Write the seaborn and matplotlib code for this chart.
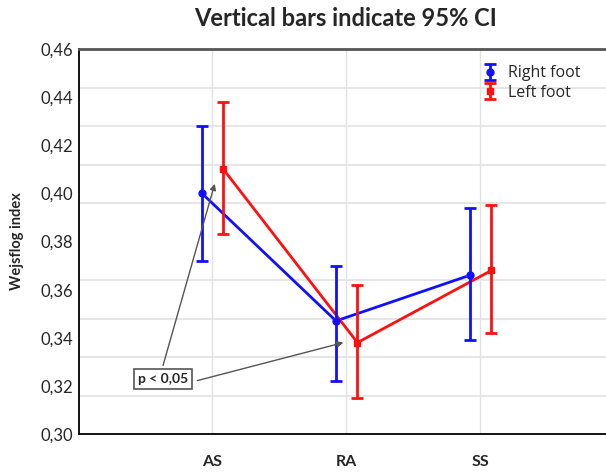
import numpy as np
import pandas as pd
import matplotlib
matplotlib.use("Agg")
import matplotlib.pyplot as plt
import seaborn as sns

# ---------------- DATA ----------------
groups = ["AS", "RA", "SS"]
right_mean = [0.400, 0.347, 0.366]
right_low = [0.372, 0.322, 0.339]
right_high = [0.428, 0.370, 0.394]
left_mean = [0.410, 0.338, 0.368]
left_low = [0.383, 0.315, 0.342]
left_high = [0.438, 0.362, 0.395]
y_labels = ["0,30", "0,32", "0,34", "0,36", "0,38", "0,40", "0,42", "0,44", "0,46"]

# ---------------- STYLE ----------------
sns.set_style("white")
plt.rcParams["font.family"] = ["Lato", "DejaVu Sans"]

fig = plt.figure(figsize=(6.06, 4.72), dpi=100)
ax = fig.add_axes([0.1304, 0.0805, 0.8696, 0.8155])

pos = np.arange(len(groups))
df = pd.DataFrame({
    "x": np.concatenate([pos - 0.075, pos + 0.085]),
    "y": right_mean + left_mean,
    "foot": ["Right foot"] * 3 + ["Left foot"] * 3,
})

sns.lineplot(data=df, x="x", y="y", hue="foot", style="foot",
             palette={"Right foot": "#1010ff", "Left foot": "#ff1010"},
             markers={"Right foot": "o", "Left foot": "s"}, dashes=False,
             markersize=5, linewidth=2, legend=False, ax=ax, zorder=3)

handles = []
for off, m, lo, hi, col, mk, lab in [
    (-0.075, right_mean, right_low, right_high, "#1010ff", "o", "Right foot"),
    (0.085, left_mean, left_low, left_high, "#ff1010", "s", "Left foot"),
]:
    m = np.array(m)
    err = [m - np.array(lo), np.array(hi) - m]
    h = ax.errorbar(pos + off, m, yerr=err, fmt=mk, color=col, ms=5,
                    elinewidth=2, capsize=4.5, capthick=2, zorder=3, label=lab)
    handles.append(h)

# ---------------- AXES ----------------
ax.set_xlim(-0.993, 2.94)
ax.set_ylim(0.30, 0.46)
ax.set_xticks(pos)
ax.set_xticklabels(groups, fontsize=11.5, fontweight="bold")
ax.tick_params(axis="x", length=0, pad=15)

ax.set_yticks(np.arange(0.30, 0.4601, 0.02))
ax.set_yticklabels(y_labels, fontsize=12)
ax.tick_params(axis="y", which="major", length=0, pad=4)
ax.set_yticks(np.linspace(0.30, 0.46, 11), minor=True)
ax.tick_params(axis="y", which="minor", length=3, color="#999999")

ax.grid(False)
ax.grid(True, axis="y", which="minor", color="#e2e2e2", linewidth=1.2)
ax.grid(True, axis="x", which="major", color="#e2e2e2", linewidth=1.0)
ax.set_axisbelow(True)

for s in ["left", "bottom"]:
    ax.spines[s].set_color("black")
    ax.spines[s].set_linewidth(1.3)
ax.spines["top"].set_color("#555555")
ax.spines["top"].set_linewidth(2)
ax.spines["right"].set_visible(False)

ax.set_xlabel("")
ax.set_ylabel("Wejsflog index", fontsize=10.5, fontweight="bold", labelpad=12)
fig.suptitle("Vertical bars indicate 95% CI", fontsize=17, fontweight="bold",
             x=0.57, y=0.985)

# legend
leg = ax.legend(handles=handles, loc="upper left", bbox_to_anchor=(0.73, 0.995),
                frameon=False, handlelength=1.5, handletextpad=0.4,
                labelspacing=0.2, prop={"family": ["Open Sans", "DejaVu Sans"], "size": 11.5})

# ---------------- ANNOTATION ----------------
box = dict(boxstyle="square,pad=0.3", fc="white", ec="#555555", lw=1.2)
arrow = dict(arrowstyle="-|>", color="#555555", lw=1, mutation_scale=9,
             shrinkA=0, shrinkB=0)
ax.text(-0.366, 0.323, "p < 0,05", fontsize=10, fontweight="bold",
        ha="center", va="center", bbox=box, zorder=6)
ax.annotate("", xy=(0.02, 0.404), xytext=(-0.366, 0.3285),
            arrowprops=arrow, zorder=5)
ax.annotate("", xy=(0.98, 0.338), xytext=(-0.11, 0.3222),
            arrowprops=arrow, zorder=5)

fig.savefig("out.png", dpi=100)
